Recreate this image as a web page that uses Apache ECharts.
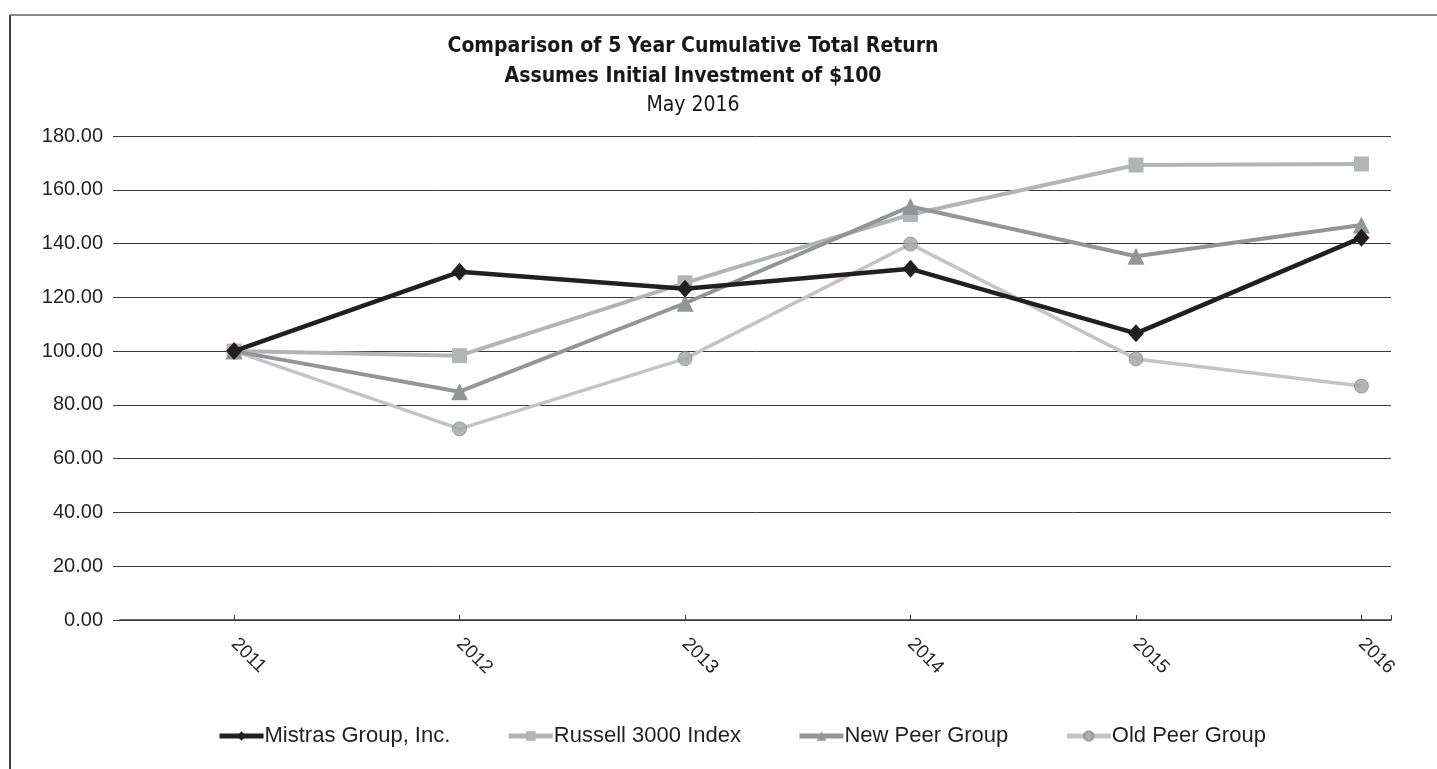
<!DOCTYPE html>
<html>
<head>
<meta charset="utf-8">
<script src="https://cdn.jsdelivr.net/npm/echarts@6/dist/echarts.min.js"></script>
<style>
  html, body { margin: 0; padding: 0; background: #fff; }
  #chart { width: 1437px; height: 769px; }
</style>
</head>
<body>
<div id="chart"></div>
<script>
// data
var years = [2011, 2012, 2013, 2014, 2015, 2016];
var mistras = [100, 129.5, 123.2, 130.6, 106.6, 142.2];
var russell = [100, 98.3, 125.4, 150.8, 169.2, 169.6];
var newPeer = [100, 84.9, 117.8, 153.8, 135.3, 146.9];
var oldPeer = [100, 71.1, 97.2, 139.8, 97.1, 87.0];

var chart = echarts.init(document.getElementById("chart"));

function pairs(vals) {
  return years.map(function (y, i) { return [y, vals[i]]; });
}

// x axis runs a bit past the first / last year like the excel chart
var xMin = 2010.494;
var xMax = 2016.131;

var labelFont = "'Liberation Sans', Arial, sans-serif";
var titleFont = "'Liberation Sans Narrow', 'DejaVu Sans Condensed', 'Liberation Sans', sans-serif";

var option = {
  backgroundColor: "#fff",
  animation: false,
  title: {
    text: "Comparison of 5 Year Cumulative Total Return\nAssumes Initial Investment of $100",
    subtext: "May 2016",
    left: 688,
    textAlign: "center",
    top: 27,
    itemGap: 3,
    textStyle: {
      fontFamily: titleFont,
      fontWeight: "bold",
      fontSize: 21,
      lineHeight: 30,
      color: "#1a1718"
    },
    subtextStyle: {
      fontFamily: titleFont,
      fontSize: 21,
      color: "#1a1718"
    }
  },
  legend: {
    bottom: 17,
    left: 212,
    itemWidth: 44,
    itemHeight: 12,
    itemGap: 56,
    lineStyle: { width: 5 },
    textStyle: { fontFamily: labelFont, fontSize: 22, color: "#231f20", padding: [0, 0, 0, -4] },
    data: ["Mistras Group, Inc.", "Russell 3000 Index", "New Peer Group", "Old Peer Group"]
  },
  grid: {
    left: 120,
    right: 46,
    top: 136,
    bottom: 149
  },
  xAxis: {
    type: "value",
    min: xMin,
    max: xMax,
    axisLine: { lineStyle: { color: "#3a3a3a", width: 1.5 } },
    axisTick: {
      inside: true,
      length: 5,
      customValues: years.concat([xMax]),
      lineStyle: { color: "#3a3a3a" }
    },
    splitLine: { show: false },
    axisLabel: {
      customValues: years,
      rotate: -45,
      margin: 21,
      fontFamily: labelFont,
      fontSize: 19,
      color: "#231f20",
      formatter: function (v) { return String(v); }
    }
  },
  yAxis: {
    type: "value",
    min: 0,
    max: 180,
    interval: 20,
    axisLine: { show: false },
    axisTick: { show: true, length: 7, lineStyle: { color: "#3a3a3a" } },
    splitLine: { lineStyle: { color: "#3a3a3a", width: 1 } },
    axisLabel: {
      margin: 17,
      fontFamily: labelFont,
      fontSize: 20,
      color: "#231f20",
      formatter: function (v) { return v.toFixed(2); }
    }
  },
  series: [
    {
      name: "Mistras Group, Inc.",
      type: "line",
      z: 5,
      data: pairs(mistras),
      symbol: "diamond",
      symbolSize: [16, 18],
      lineStyle: { color: "#231f20", width: 4.5 },
      itemStyle: { color: "#231f20" }
    },
    {
      name: "Russell 3000 Index",
      type: "line",
      z: 3,
      data: pairs(russell),
      symbol: "rect",
      symbolSize: 15,
      lineStyle: { color: "#b3b4b6", width: 4 },
      itemStyle: { color: "#b3b4b6" }
    },
    {
      name: "New Peer Group",
      type: "line",
      z: 4,
      data: pairs(newPeer),
      symbol: "triangle",
      symbolSize: 17,
      lineStyle: { color: "#939598", width: 4 },
      itemStyle: { color: "#939598" }
    },
    {
      name: "Old Peer Group",
      type: "line",
      z: 2,
      data: pairs(oldPeer),
      symbol: "circle",
      symbolSize: 14,
      lineStyle: { color: "#c4c4c5", width: 3.5 },
      itemStyle: { color: "#a7a8aa", borderColor: "#8f9092", borderWidth: 1, opacity: 0.85 }
    }
  ],
  graphic: [
    {
      type: "line",
      shape: { x1: 10, y1: 15, x2: 1437, y2: 15 },
      style: { stroke: "#8a8a8a", lineWidth: 2 }
    },
    {
      type: "line",
      shape: { x1: 10, y1: 15, x2: 10, y2: 769 },
      style: { stroke: "#444", lineWidth: 2 }
    }
  ]
};

chart.setOption(option);
</script>
</body>
</html>
